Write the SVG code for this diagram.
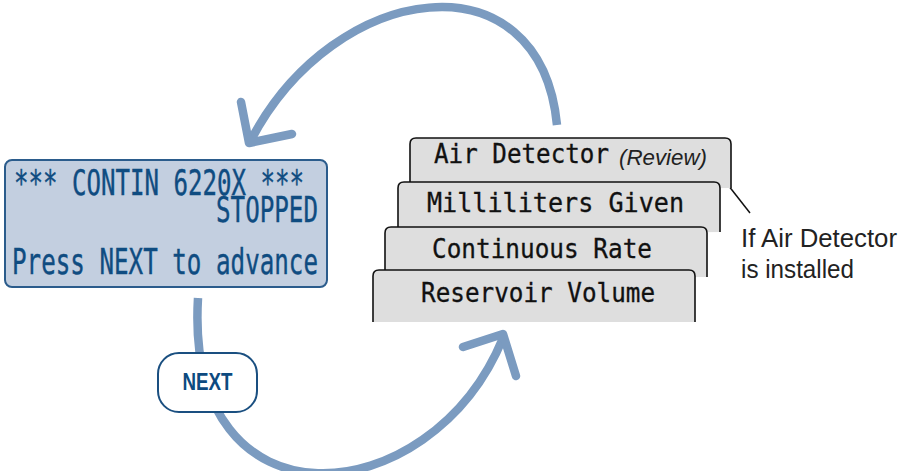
<svg xmlns="http://www.w3.org/2000/svg" width="908" height="471" viewBox="0 0 908 471">
<style>
.arrow{fill:none;stroke:#7b9bc0;stroke-width:8.5;stroke-linecap:butt}
.head{fill:none;stroke:#7b9bc0;stroke-width:8.5;stroke-linecap:round;stroke-linejoin:round}
.lcd{font-family:"DejaVu Sans Mono","Liberation Mono",monospace;font-size:35px;fill:#0f4c81;stroke:#0f4c81;stroke-width:0.4}
.card{fill:#dedede;stroke:#111;stroke-width:1.6}
.ct{font-family:"DejaVu Sans Mono","Liberation Mono",monospace;font-size:26px;fill:#111;stroke:#111;stroke-width:0.3}
.note{font-family:"Liberation Sans",Arial,sans-serif;font-size:26px;fill:#222}
</style>
<rect width="908" height="471" fill="#fff"/>
<g id="connectors">
  <path class="arrow" d="M557 125 C540 -48 335 -20 251 140"/>
  <path class="head" d="M241 102 L249 143 L292 134"/>
  <path class="arrow" d="M198 298 C184 535 430 515 503 338"/>
  <path class="head" d="M463 347 L503 334 L516 376"/>
  <line x1="721" y1="176" x2="750" y2="213" stroke="#111" stroke-width="1.5"/>
</g>
<g id="lcd-display">
  <rect x="5" y="160" width="322" height="127" rx="7" fill="#c3cfe0" stroke="#2b5c8c" stroke-width="2"/>
  <text class="lcd" x="14" y="195" textLength="290" lengthAdjust="spacingAndGlyphs">*** CONTIN 6220X ***</text>
  <text class="lcd" x="216" y="222" textLength="102" lengthAdjust="spacingAndGlyphs">STOPPED</text>
  <text class="lcd" x="12" y="274" textLength="306" lengthAdjust="spacingAndGlyphs">Press NEXT to advance</text>
</g>
<g id="next-button">
  <rect x="158" y="353" width="99" height="59" rx="21" fill="#fff" stroke="#1a4f80" stroke-width="2"/>
  <text x="207.5" y="390" text-anchor="middle" font-family="Liberation Sans,Arial,sans-serif" font-weight="bold" font-size="23" fill="#0d4a80" textLength="50" lengthAdjust="spacingAndGlyphs">NEXT</text>
</g>
<g id="card-air-detector">
  <path class="card" d="M410 190 V144 Q410 138 416 138 H725 Q731 138 731 144 V188"/>
  <text class="ct" x="434" y="163" textLength="175" lengthAdjust="spacingAndGlyphs">Air Detector</text>
  <text x="619" y="165" font-family="Liberation Sans,Arial,sans-serif" font-style="italic" font-size="22" fill="#222" textLength="88" lengthAdjust="spacingAndGlyphs">(Review)</text>
</g>
<g id="card-milliliters">
  <path class="card" d="M398 236 V188 Q398 182 404 182 H714 Q720 182 720 188 V232"/>
  <text class="ct" x="427" y="212" textLength="257" lengthAdjust="spacingAndGlyphs">Milliliters Given</text>
</g>
<g id="card-continuous">
  <path class="card" d="M385 280 V233 Q385 227 391 227 H701 Q707 227 707 233 V277"/>
  <text class="ct" x="432" y="258" textLength="220" lengthAdjust="spacingAndGlyphs">Continuous Rate</text>
</g>
<g id="card-reservoir">
  <path class="card" d="M373 322 V276 Q373 270 379 270 H689 Q695 270 695 276 V322"/>
  <text class="ct" x="421" y="302" textLength="234" lengthAdjust="spacingAndGlyphs">Reservoir Volume</text>
</g>
<g id="note">
  <text class="note" x="741" y="247" textLength="156" lengthAdjust="spacingAndGlyphs">If Air Detector</text>
  <text class="note" x="741" y="278" textLength="113" lengthAdjust="spacingAndGlyphs">is installed</text>
</g>
</svg>
